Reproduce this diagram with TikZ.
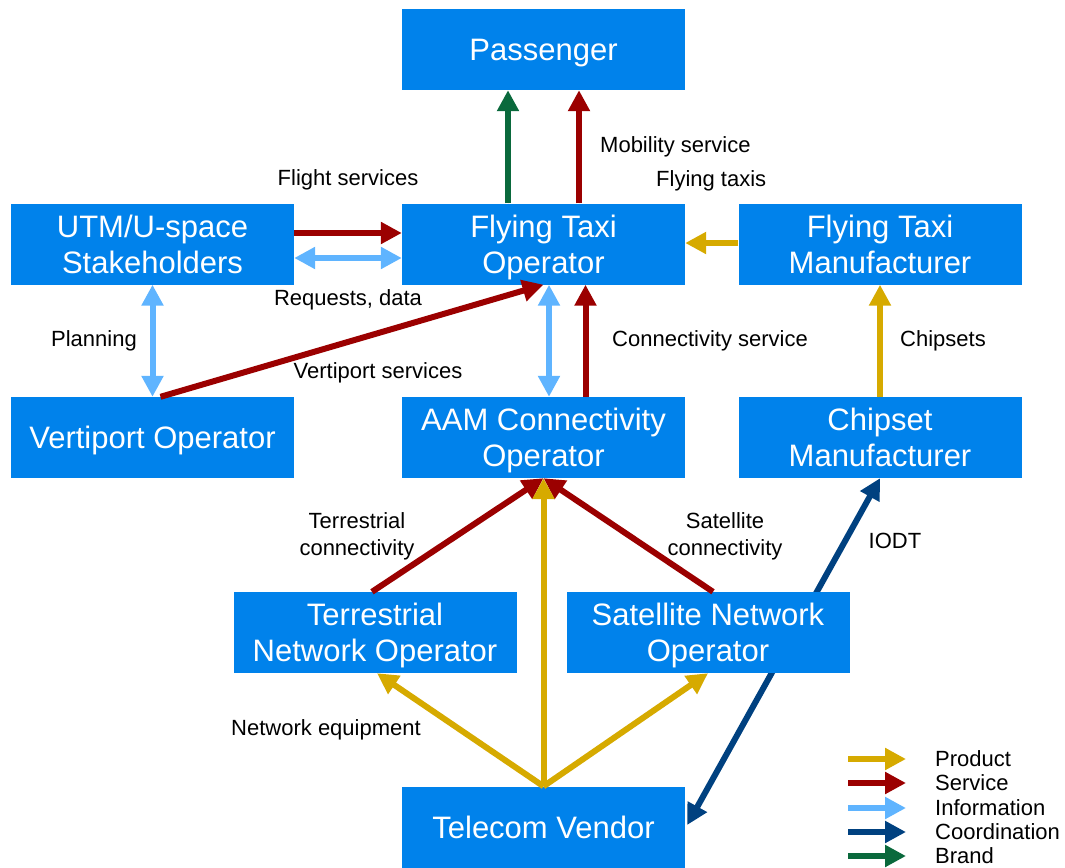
\documentclass[tikz,border=0pt]{standalone}
\usepackage{fontspec}
\setmainfont{Liberation Sans}
\usetikzlibrary{arrows.meta}
\definecolor{boxblue}{RGB}{0,130,235}
\definecolor{cprod}{RGB}{214,170,0}
\definecolor{cserv}{RGB}{155,0,0}
\definecolor{cinfo}{RGB}{95,180,255}
\definecolor{ccoord}{RGB}{0,65,128}
\definecolor{cbrand}{RGB}{10,105,60}
\tikzset{
  box/.style={fill=boxblue, draw=none, minimum width=283pt, minimum height=81pt, text=white, font=\fontsize{31}{36}\selectfont, align=center, inner sep=0pt, text depth=0pt},
  lbl/.style={font=\fontsize{22}{27}\selectfont, align=center, inner sep=0pt},
  tipa/.tip={Triangle[length=21pt,width=21pt]},
  conn/.style={line width=6pt, -tipa},
  dconn/.style={line width=6pt, tipa-tipa},
  prod/.style={conn, draw=cprod, fill=cprod},
  serv/.style={conn, draw=cserv, fill=cserv},
  info/.style={dconn, draw=cinfo, fill=cinfo},
  coord/.style={dconn, draw=ccoord, fill=ccoord},
  brand/.style={conn, draw=cbrand, fill=cbrand},
}
\begin{document}
\begin{tikzpicture}[x=1pt,y=-1pt]
\useasboundingbox (0,0) rectangle (1065,867);
% nodes
\node[box] (pass) at (543.5,49.5) {Passenger};
\node[box] (utm) at (152.5,244) {UTM/U-space\\Stakeholders};
\node[box] (fto) at (543.5,244) {Flying Taxi\\Operator};
\node[box] (ftm) at (880,244) {Flying Taxi\\Manufacturer};
\node[box] (vo) at (152.5,437.5) {Vertiport Operator};
\node[box] (aam) at (543.5,437.5) {AAM Connectivity\\Operator};
\node[box] (cm) at (880,437.5) {Chipset\\Manufacturer};
\node[box] (tno) at (375,632.5) {Terrestrial\\Network Operator};
\node[box] (sno) at (708,632.5) {Satellite Network\\Operator};
\node[box] (tv) at (543.5,827) {Telecom Vendor};
% coordination line passes behind the satellite box
\draw[coord] (cm.south) -- ([xshift=2pt,yshift=2pt]tv.east);
\node[box] at (sno) {Satellite Network\\Operator};
% connectors
\draw[brand] ([xshift=-35.5pt]fto.north) -- ([xshift=-35.5pt]pass.south);
\draw[serv] ([xshift=35.5pt]fto.north) -- ([xshift=35.5pt]pass.south);
\draw[serv] ([yshift=11pt]utm.east) -- ([yshift=11pt]fto.west);
\draw[info] ([yshift=-14pt]utm.east) -- ([yshift=-14pt]fto.west);
\draw[prod] ([yshift=1pt]ftm.west) -- ([yshift=1pt]fto.east);
\draw[info] (utm.south) -- (vo.north);
\draw[serv] ([xshift=8pt]vo.north) -- (fto.south);
\draw[info] ([xshift=5.5pt]aam.north) -- ([xshift=5.5pt]fto.south);
\draw[serv] ([xshift=42pt]aam.north) -- ([xshift=42pt]fto.south);
\draw[prod] (cm.north) -- (ftm.south);
\draw[serv] ([xshift=-3pt]tno.north) -- (aam.south);
\draw[serv] ([xshift=5pt]sno.north) -- (aam.south);
\draw[prod] (tv.north) -- (aam.south);
\draw[prod] (tv.north) -- ([xshift=2pt]tno.south);
\draw[prod] (tv.north) -- (sno.south);
% labels
\node[lbl, anchor=west] (lmob) at (600,147) {Mobility service};
\node[lbl, anchor=west] (lft1) at (656,181) {Flying taxis};
\node[lbl] (lfs) at (348,180) {Flight services};
\node[lbl] (lrd) at (348,300) {Requests, data};
\node[lbl] (lpl) at (94,341) {Planning};
\node[lbl] (lvs) at (378,373) {Vertiport services};
\node[lbl] (lcs) at (710,341) {Connectivity service};
\node[lbl] (lchip) at (943,341) {Chipsets};
\node[lbl] (ltc) at (357,536) {Terrestrial\\connectivity};
\node[lbl] (lsc) at (725,536) {Satellite\\connectivity};
\node[lbl] (liodt) at (895,541) {IODT};
\node[lbl] (lne) at (326,730) {Network equipment};
% legend
\foreach \y/\c/\t [count=\i] in {759/cprod/Product,783/cserv/Service,808/cinfo/Information,832/ccoord/Coordination,856/cbrand/Brand}{
  \coordinate (ls\i) at (848,\y);
  \coordinate (le\i) at (906,\y);
  \draw[conn, draw=\c, fill=\c] (ls\i) -- (le\i);
  \node[lbl, anchor=west] (lg\i) at (935,\y) {\t};
}
\end{tikzpicture}
\end{document}
